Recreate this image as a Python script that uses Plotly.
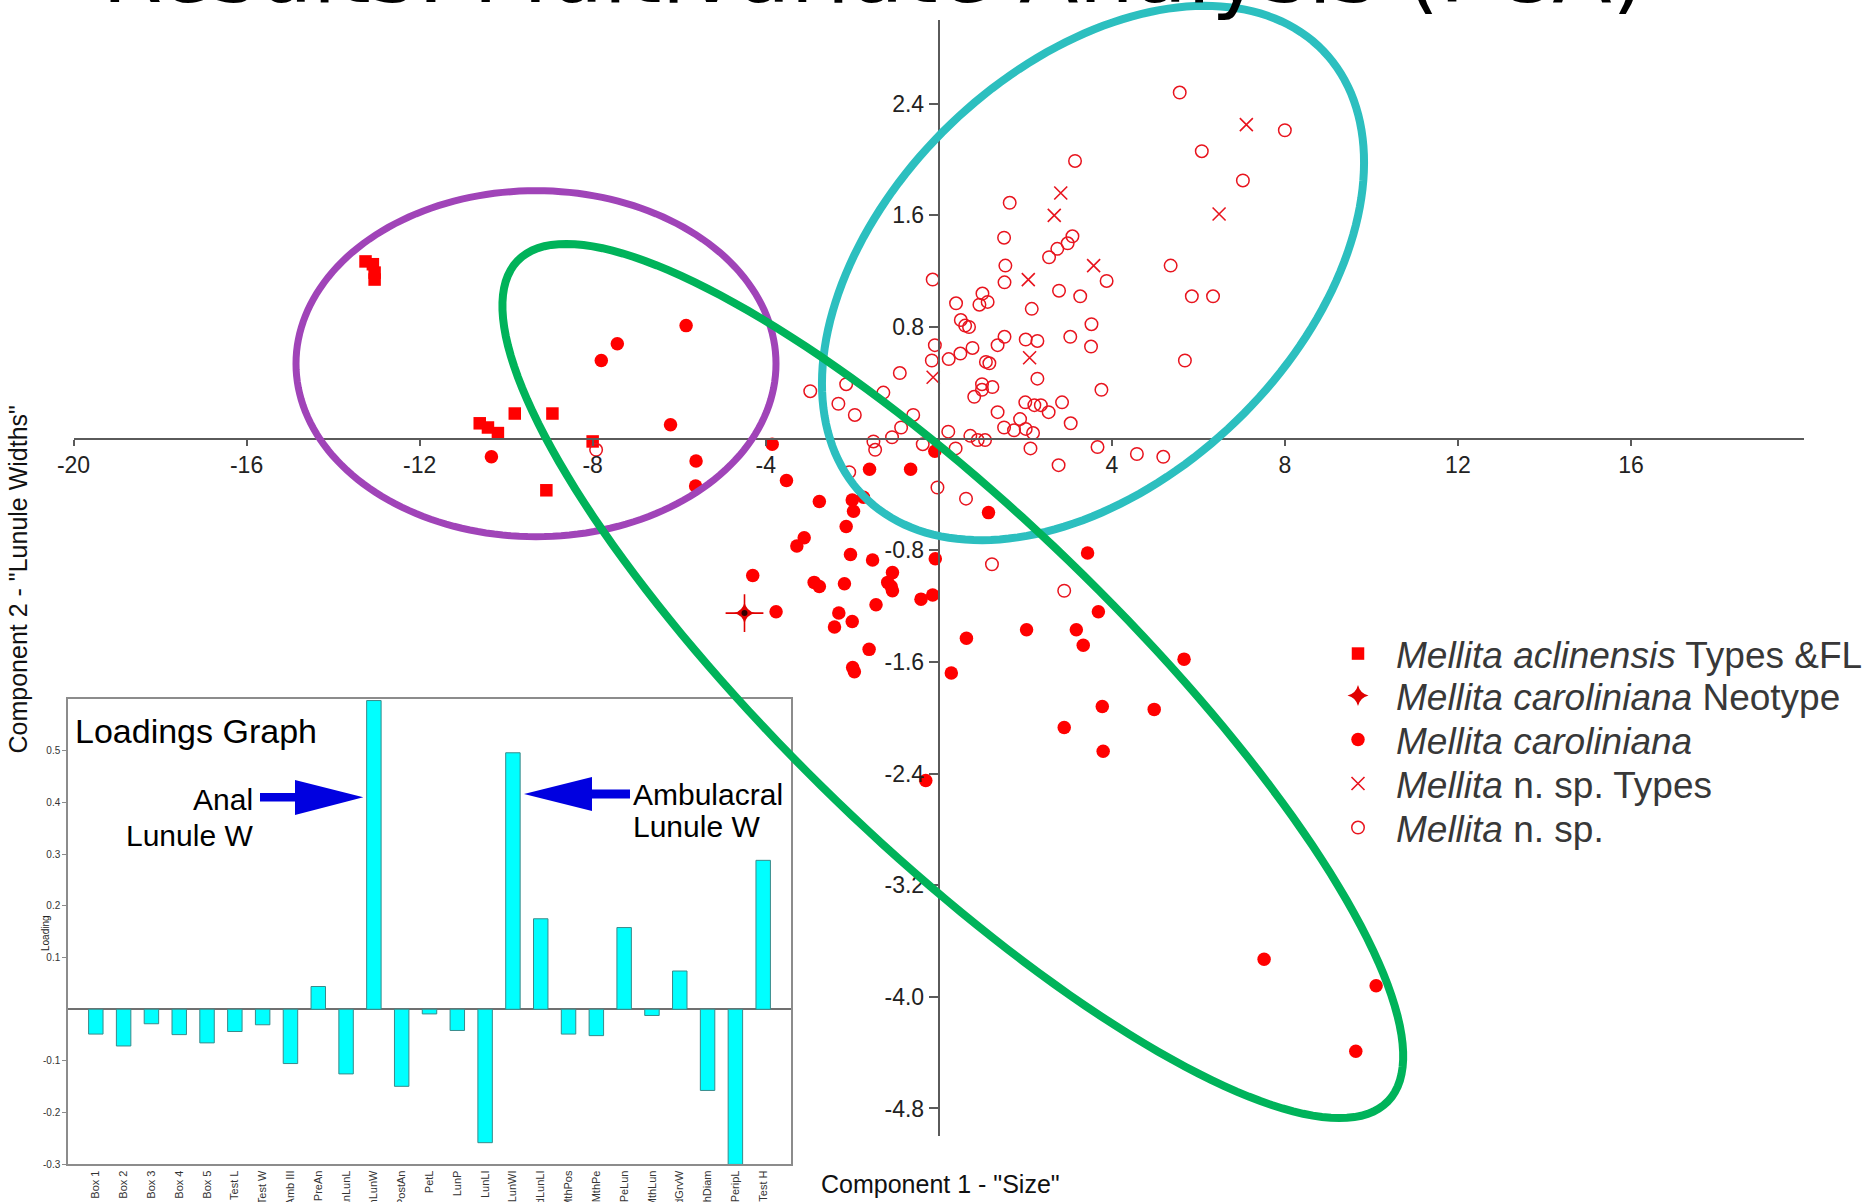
import numpy as np
import plotly.graph_objects as go

# ---------------- data ----------------
acl_x = [-13.25, -13.08, -13.04, -13.04, -10.61, -10.42, -10.19, -9.80, -8.93, -8.00, -9.07]
acl_y = [1.27, 1.25, 1.19, 1.14, 0.11, 0.08, 0.04, 0.18, 0.18, -0.02, -0.37]

neo_x = [-4.49]
neo_y = [-1.25]

car_x = [-5.84, -7.43, -7.80, -6.20, -10.34, -5.61, -5.62, -3.85, -1.60, -0.65, -0.09, -3.52,
         -2.76, -2.00, -1.74, -1.97, -2.14, -3.11, -3.28, -2.04, -1.53, -4.30, -2.88, -2.76,
         -2.18, -1.07, -1.18, -1.10, -1.07, -1.45, -0.41, -0.14, -3.76, -2.31, -2.41, -2.00,
         -1.61, -1.99, -1.95, -0.08, 1.15, 3.44, 3.69, 2.03, 3.18, 3.34, 0.64, 0.29, 3.78,
         2.90, 3.80, -0.30, 5.67, 4.98, 7.52, 10.11, 9.64]
car_y = [0.81, 0.68, 0.56, 0.10, -0.13, -0.16, -0.34, -0.04, -0.22, -0.22, -0.09, -0.30,
         -0.45, -0.44, -0.42, -0.52, -0.63, -0.71, -0.77, -0.83, -0.87, -0.98, -1.03, -1.06,
         -1.04, -0.96, -1.03, -1.06, -1.09, -1.19, -1.15, -1.12, -1.24, -1.25, -1.35, -1.31,
         -1.51, -1.64, -1.67, -0.86, -0.53, -0.82, -1.24, -1.37, -1.37, -1.48, -1.43, -1.68, -1.92,
         -2.07, -2.24, -2.45, -1.58, -1.94, -3.73, -3.92, -4.39]

nspt_x = [7.11, 2.82, 2.67, 6.48, 3.58, 2.07, 2.10, -0.13]
nspt_y = [2.25, 1.76, 1.60, 1.61, 1.24, 1.14, 0.58, 0.44]

nsp_x = [1.51, 1.54, 1.52, -0.14, 0.40, 1.01, 0.94, 1.13, 0.51, 0.61, 0.70, 2.55, 2.74, 2.98,
         3.09, 2.78, 2.15, 3.04, 1.52, 1.36, 2.01, 2.28, 0.78, 0.50, 0.23, -0.09, -0.16, 1.09,
         1.17, 2.28, -0.90, -2.97, -2.14, -1.28, -2.32, -1.94, -0.59, -0.87, -1.08, -1.51, -1.47,
         -0.37, 0.22, 0.39, 0.73, 0.90, 1.07, 1.00, 1.00, 1.24, 0.82, 1.36, 1.51, 1.74, 1.88,
         2.01, 2.18, 2.12, 2.00, 2.21, 2.36, 2.54, 2.85, 3.05, 2.77, 3.27, -2.07, -0.03, 0.63,
         1.23, 2.90, 3.67, 5.57, 8.00, 6.08, 7.03, 3.15, 1.64, 3.88, 5.36, 5.85, 6.34, 3.53,
         3.52, 3.76, 5.69, 4.58, 5.19, -7.92]
nsp_y = [1.44, 1.24, 1.12, 1.14, 0.97, 1.04, 0.96, 0.98, 0.85, 0.81, 0.80, 1.30, 1.36, 1.40,
         1.45, 1.06, 0.93, 0.73, 0.73, 0.67, 0.71, 0.70, 0.65, 0.61, 0.57, 0.67, 0.56, 0.55,
         0.54, 0.43, 0.47, 0.34, 0.39, 0.33, 0.25, 0.17, 0.17, 0.08, 0.01, -0.02, -0.08,
         -0.04, 0.05, -0.07, 0.02, -0.01, -0.01, 0.39, 0.35, 0.37, 0.30, 0.19, 0.08, 0.06, 0.14,
         0.07, 0.04, -0.07, 0.26, 0.24, 0.24, 0.19, 0.26, 0.11, -0.19, 1.02, -0.24, -0.35, -0.43,
         -0.90, -1.09, -0.06, 2.48, 2.21, 2.06, 1.85, 1.99, 1.69, 1.13, 1.24, 1.02, 1.02, 0.82,
         0.66, 0.35, 0.56, -0.11, -0.13, -0.08]

main_xticks = [-20, -16, -12, -8, -4, 4, 8, 12, 16]
main_yticks = [2.4, 1.6, 0.8, -0.8, -1.6, -2.4, -3.2, -4.0, -4.8]
main_yticktext = ["2.4", "1.6", "0.8", "-0.8", "-1.6", "-2.4", "-3.2", "-4.0", "-4.8"]

load_labels = ["Box 1", "Box 2", "Box 3", "Box 4", "Box 5", "Test L", "Test W", "Amb III",
               "PreAn", "AnLunL", "AnLunW", "PostAn", "PetL", "LunP", "LunLI", "LunWI",
               "AdLunLI", "MthPos", "MthPe", "PeLun", "MthLun", "FdGrvW", "MthDiam", "PeripL",
               "Test H"]
load_vals = [-0.048, -0.071, -0.028, -0.049, -0.065, -0.043, -0.030, -0.105, 0.044, -0.125,
             0.597, -0.149, -0.009, -0.041, -0.258, 0.496, 0.175, -0.048, -0.051, 0.158,
             -0.012, 0.074, -0.157, -0.300, 0.288]
load_yticks = [-0.3, -0.2, -0.1, 0.1, 0.2, 0.3, 0.4, 0.5]
load_yticktext = ["-0.3", "-0.2", "-0.1", "0.1", "0.2", "0.3", "0.4", "0.5"]

# ---------------- layout geometry ----------------
W, H = 1870, 1202
ML, MR, MT, MB = 68, 66, 20, 30
PW = W - ML - MR
PH = H - MT - MB


def pxp(px, py):
    return (px - ML) / PW, (H - MB - py) / PH


main_xdom = [(73.5 - ML) / PW, 1.0]
main_ydom = [(H - MB - 1136.4) / PH, 1.0]
xaxis_pos = main_ydom[0] + (0 - (-5)) / 8 * (main_ydom[1] - main_ydom[0])
yaxis_pos = main_xdom[0] + (0 - (-20)) / 40 * (main_xdom[1] - main_xdom[0])

inset_xdom = [0.0, (791 - ML) / PW]
inset_ydom = [(H - MB - 1164.4) / PH, (H - MB - 699) / PH]

FONT = "Liberation Sans, Arial, sans-serif"
RED = "#ff0000"
ORED = "#e8141e"

fig = go.Figure()

# ---------------- main scatter (each series has its own legend box) ----------------
fig.add_trace(go.Scatter(x=acl_x, y=acl_y, mode="markers", legend="legend",
                         name="<i>Mellita aclinensis</i> Types &amp;FL",
                         marker=dict(symbol="square", size=12.5, color=RED)))
fig.add_trace(go.Scatter(x=neo_x, y=neo_y, mode="markers", showlegend=False,
                         marker=dict(symbol="cross-thin-open", size=27, color="#e00000",
                                     line=dict(width=1.6, color="#e00000"))))
fig.add_trace(go.Scatter(x=neo_x, y=neo_y, mode="markers", legend="legend2",
                         name="<i>Mellita caroliniana</i> Neotype",
                         marker=dict(symbol="star-diamond", size=15, color="#e00000",
                                     line=dict(width=0))))
fig.add_trace(go.Scatter(x=neo_x, y=neo_y, mode="markers", showlegend=False,
                         marker=dict(symbol="circle", size=6, color="#300000")))
fig.add_trace(go.Scatter(x=car_x, y=car_y, mode="markers", legend="legend3",
                         name="<i>Mellita caroliniana</i>",
                         marker=dict(symbol="circle", size=13.5, color=RED)))
fig.add_trace(go.Scatter(x=nspt_x, y=nspt_y, mode="markers", legend="legend4",
                         name="<i>Mellita</i> n. sp. Types",
                         marker=dict(symbol="x-thin-open", size=13, color=ORED,
                                     line=dict(width=1.6, color=ORED))))
fig.add_trace(go.Scatter(x=nsp_x, y=nsp_y, mode="markers", legend="legend5",
                         name="<i>Mellita</i> n. sp.",
                         marker=dict(symbol="circle-open", size=12.5, color=ORED,
                                     line=dict(width=1.5, color=ORED))))

# ---------------- inset bars ----------------
fig.add_trace(go.Bar(x=list(range(len(load_vals))), y=load_vals, width=0.52,
                     xaxis="x2", yaxis="y2", showlegend=False,
                     marker=dict(color="#00ffff", line=dict(color="#3a8a8a", width=1))))

axis_col = "#5a5a5a"


def legend_box(py):
    return dict(x=pxp(1320, 0)[0], y=pxp(0, py)[1], xanchor="left", yanchor="middle",
                font=dict(family=FONT, size=37, color="#383838"), itemwidth=66,
                bgcolor="rgba(0,0,0,0)", borderwidth=0)


fig.update_layout(
    width=W, height=H,
    margin=dict(l=ML, r=MR, t=MT, b=MB, autoexpand=False),
    paper_bgcolor="white", plot_bgcolor="white",
    font=dict(family=FONT, color="#222222"),
    xaxis=dict(domain=main_xdom, range=[-20, 20], anchor="free", position=xaxis_pos,
               showline=True, linecolor=axis_col, linewidth=2, ticks="outside",
               ticklen=6, tickwidth=1.5, tickcolor=axis_col, tickvals=main_xticks,
               ticktext=[str(v) for v in main_xticks], tickfont=dict(size=23, color="#222"),
               showgrid=False, zeroline=False, automargin=False),
    yaxis=dict(domain=main_ydom, range=[-5, 3], anchor="free", position=yaxis_pos,
               showline=True, linecolor=axis_col, linewidth=2, ticks="outside",
               ticklen=9, tickwidth=1.5, tickcolor=axis_col, tickvals=main_yticks,
               ticktext=main_yticktext, tickfont=dict(size=23, color="#222"),
               showgrid=False, zeroline=False, automargin=False),
    xaxis2=dict(domain=inset_xdom, range=[-1, 25], anchor="y2", showline=True, mirror=True,
                linecolor="#8c8c8c", linewidth=1.5, tickvals=list(range(len(load_labels))),
                ticktext=load_labels, tickangle=-90, tickfont=dict(size=11, color="#333"),
                ticks="", showgrid=False, zeroline=False, automargin=False),
    yaxis2=dict(domain=inset_ydom, range=[-0.3, 0.6], anchor="x2", showline=True, mirror=True,
                linecolor="#8c8c8c", linewidth=1.5, tickvals=load_yticks,
                ticktext=load_yticktext, ticks="outside", ticklen=4, tickcolor="#8c8c8c",
                tickfont=dict(size=10, color="#333"), showgrid=False, automargin=False,
                zeroline=True, zerolinecolor="#707070", zerolinewidth=1.5),
    legend=legend_box(654),
    legend2=legend_box(696),
    legend3=legend_box(740),
    legend4=legend_box(784),
    legend5=legend_box(828),
    showlegend=True,
)


# ---------------- decorations (ellipses, arrows) ----------------
def ellipse_path(cx, cy, a, b, ang_deg, n=180):
    t = np.linspace(0, 2 * np.pi, n, endpoint=False)
    phi = np.deg2rad(ang_deg)
    px = cx + a * np.cos(t) * np.cos(phi) - b * np.sin(t) * np.sin(phi)
    py = cy + a * np.cos(t) * np.sin(phi) + b * np.sin(t) * np.cos(phi)
    pts = [pxp(u, v) for u, v in zip(px, py)]
    return "M " + " L ".join(f"{u:.5f},{v:.5f}" for u, v in pts) + " Z"


def poly_path(points):
    pts = [pxp(u, v) for u, v in points]
    return "M " + " L ".join(f"{u:.5f},{v:.5f}" for u, v in pts) + " Z"


shapes = [
    dict(type="path", xref="paper", yref="paper", layer="above",
         path=ellipse_path(536, 363.7, 240, 173, 0), line=dict(color="#a044b8", width=7)),
    dict(type="path", xref="paper", yref="paper", layer="above",
         path=ellipse_path(1093, 273, 320, 206, -44), line=dict(color="#2cbfbf", width=8)),
    dict(type="path", xref="paper", yref="paper", layer="above",
         path=ellipse_path(952.8, 681, 605, 167, 44), line=dict(color="#00b35a", width=8)),
    dict(type="path", xref="paper", yref="paper", layer="above", fillcolor="#0000e0",
         line=dict(width=0),
         path=poly_path([(260, 793), (295, 793), (295, 780), (363.3, 797.3), (295, 815),
                         (295, 801.5), (260, 801.5)])),
    dict(type="path", xref="paper", yref="paper", layer="above", fillcolor="#0000e0",
         line=dict(width=0),
         path=poly_path([(630, 789.5), (592, 789.5), (592, 777), (524, 794), (592, 811),
                         (592, 798.5), (630, 798.5)])),
]
fig.update_layout(shapes=shapes)


def ann(text, px, py, size, xanchor="center", yanchor="middle", angle=0, family=FONT,
        color="#111111"):
    x, y = pxp(px, py)
    return dict(text=text, x=x, y=y, xref="paper", yref="paper", showarrow=False,
                xanchor=xanchor, yanchor=yanchor, textangle=angle,
                font=dict(family=family, size=size, color=color))


annotations = [
    ann("Results: Multivariate Analysis (PCA)", 873.5, 25, 87, yanchor="bottom",
        family="DejaVu Sans, Verdana, sans-serif", color="#000000"),
    ann('Component 2 - "Lunule Widths"', 17, 579.5, 25, angle=-90),
    ann('Component 1 - "Size"', 940, 1184, 25),
    ann("Loadings Graph", 73, 731, 34, xanchor="left", color="#000000"),
    ann("Anal", 255, 799, 30, xanchor="right", color="#000000"),
    ann("Lunule W", 255, 836, 30, xanchor="right", color="#000000"),
    ann("Ambulacral", 631, 794, 30, xanchor="left", color="#000000"),
    ann("Lunule W", 631, 826, 30, xanchor="left", color="#000000"),
    ann("Loading", 45, 933, 10, angle=-90, color="#222"),
]
fig.update_layout(annotations=annotations)

fig.write_html("out.html",
               config={"displayModeBar": False},
               post_script="document.body.style.margin='0px';"
                           "document.documentElement.style.overflow='hidden';")
